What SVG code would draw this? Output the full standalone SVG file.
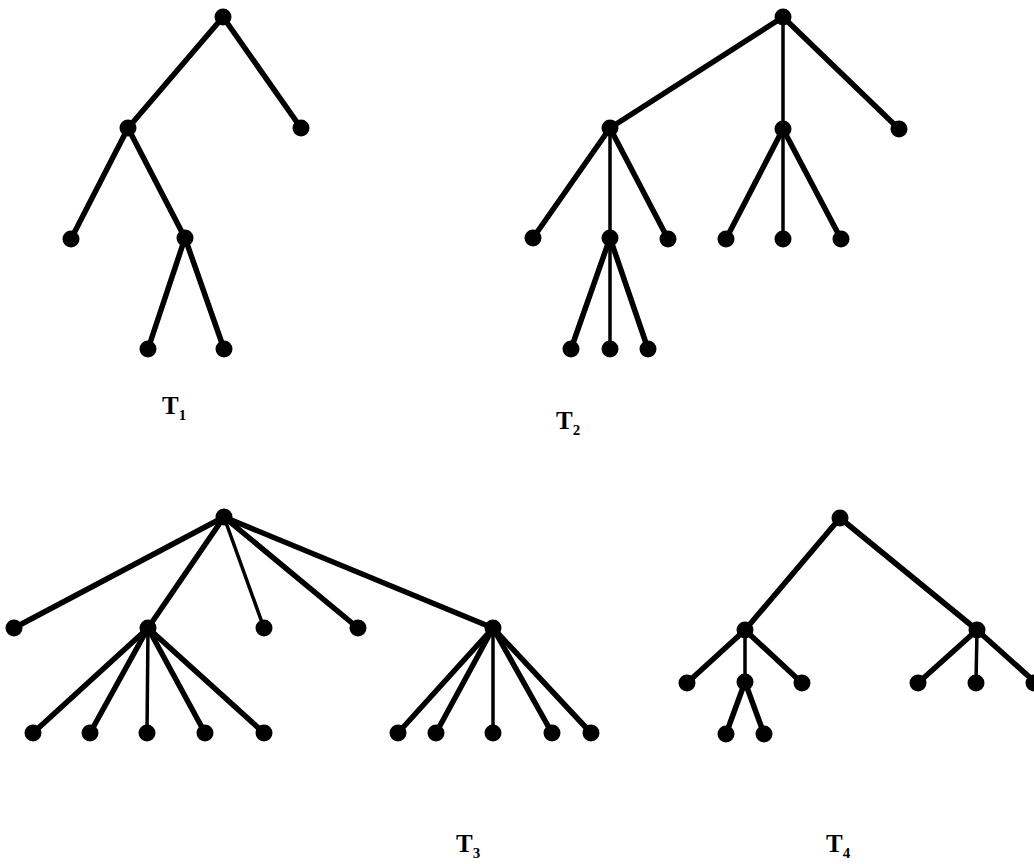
<svg xmlns="http://www.w3.org/2000/svg" width="1034" height="864" viewBox="0 0 1034 864">
<style>
.e{stroke:#000;stroke-width:5.5;stroke-linecap:round;fill:none}
.v{stroke:#000;stroke-width:3.5;stroke-linecap:round;fill:none}
.n{fill:#000}
.lab{font-family:"Liberation Serif","DejaVu Serif",serif;font-weight:bold;fill:#000}
</style>
<rect width="1034" height="864" fill="#fff"/>
<g id="connectors">
<line class="e" x1="223" y1="17" x2="128" y2="128"/>
<line class="e" x1="223" y1="17" x2="301" y2="128"/>
<line class="e" x1="128" y1="128" x2="71" y2="239"/>
<line class="e" x1="128" y1="128" x2="185" y2="238"/>
<line class="e" x1="185" y1="238" x2="148" y2="349"/>
<line class="e" x1="185" y1="238" x2="224" y2="349"/>
<line class="e" x1="783" y1="17" x2="610" y2="128"/>
<line class="v" x1="783" y1="17" x2="783" y2="129"/>
<line class="e" x1="783" y1="17" x2="899" y2="129"/>
<line class="e" x1="610" y1="128" x2="533" y2="238"/>
<line class="v" x1="610" y1="128" x2="610" y2="238"/>
<line class="e" x1="610" y1="128" x2="668" y2="239"/>
<line class="e" x1="783" y1="129" x2="726" y2="239"/>
<line class="v" x1="783" y1="129" x2="783" y2="239"/>
<line class="e" x1="783" y1="129" x2="841" y2="239"/>
<line class="e" x1="610" y1="238" x2="571" y2="349"/>
<line class="v" x1="610" y1="238" x2="610" y2="349"/>
<line class="e" x1="610" y1="238" x2="648" y2="349"/>
<line class="e" x1="224" y1="517" x2="14" y2="628"/>
<line class="e" x1="224" y1="517" x2="148" y2="628"/>
<line class="v" x1="224" y1="517" x2="264" y2="628"/>
<line class="e" x1="224" y1="517" x2="358" y2="628"/>
<line class="e" x1="224" y1="517" x2="493" y2="628"/>
<line class="e" x1="148" y1="628" x2="33" y2="733"/>
<line class="e" x1="148" y1="628" x2="90" y2="733"/>
<line class="v" x1="148" y1="628" x2="147" y2="733"/>
<line class="e" x1="148" y1="628" x2="205" y2="733"/>
<line class="e" x1="148" y1="628" x2="264" y2="733"/>
<line class="e" x1="493" y1="628" x2="398" y2="733"/>
<line class="e" x1="493" y1="628" x2="436" y2="733"/>
<line class="v" x1="493" y1="628" x2="493" y2="733"/>
<line class="e" x1="493" y1="628" x2="552" y2="733"/>
<line class="e" x1="493" y1="628" x2="591" y2="733"/>
<line class="e" x1="840" y1="518" x2="745" y2="630"/>
<line class="e" x1="840" y1="518" x2="977" y2="630"/>
<line class="e" x1="745" y1="630" x2="687" y2="683"/>
<line class="v" x1="745" y1="630" x2="745" y2="682"/>
<line class="e" x1="745" y1="630" x2="802" y2="683"/>
<line class="e" x1="745" y1="682" x2="726" y2="734"/>
<line class="e" x1="745" y1="682" x2="764" y2="734"/>
<line class="e" x1="977" y1="630" x2="918" y2="683"/>
<line class="v" x1="977" y1="630" x2="976" y2="683"/>
<line class="e" x1="977" y1="630" x2="1036" y2="683"/>
</g>
<g id="T1">
<circle class="n" cx="223" cy="17" r="8.5"/>
<circle class="n" cx="128" cy="128" r="8.5"/>
<circle class="n" cx="301" cy="128" r="8.5"/>
<circle class="n" cx="71" cy="239" r="8.5"/>
<circle class="n" cx="185" cy="238" r="8.5"/>
<circle class="n" cx="148" cy="349" r="8.5"/>
<circle class="n" cx="224" cy="349" r="8.5"/>
<text class="lab" x="162" y="414" font-size="25">T<tspan font-size="15" dy="6">1</tspan></text>
</g>
<g id="T2">
<circle class="n" cx="783" cy="17" r="8.5"/>
<circle class="n" cx="610" cy="128" r="8.5"/>
<circle class="n" cx="783" cy="129" r="8.5"/>
<circle class="n" cx="899" cy="129" r="8.5"/>
<circle class="n" cx="533" cy="238" r="8.5"/>
<circle class="n" cx="610" cy="238" r="8.5"/>
<circle class="n" cx="668" cy="239" r="8.5"/>
<circle class="n" cx="726" cy="239" r="8.5"/>
<circle class="n" cx="783" cy="239" r="8.5"/>
<circle class="n" cx="841" cy="239" r="8.5"/>
<circle class="n" cx="571" cy="349" r="8.5"/>
<circle class="n" cx="610" cy="349" r="8.5"/>
<circle class="n" cx="648" cy="349" r="8.5"/>
<text class="lab" x="556" y="429" font-size="25">T<tspan font-size="15" dy="6">2</tspan></text>
</g>
<g id="T3">
<circle class="n" cx="224" cy="517" r="8.5"/>
<circle class="n" cx="14" cy="628" r="8.5"/>
<circle class="n" cx="148" cy="628" r="8.5"/>
<circle class="n" cx="264" cy="628" r="8.5"/>
<circle class="n" cx="358" cy="628" r="8.5"/>
<circle class="n" cx="493" cy="628" r="8.5"/>
<circle class="n" cx="33" cy="733" r="8.5"/>
<circle class="n" cx="90" cy="733" r="8.5"/>
<circle class="n" cx="147" cy="733" r="8.5"/>
<circle class="n" cx="205" cy="733" r="8.5"/>
<circle class="n" cx="264" cy="733" r="8.5"/>
<circle class="n" cx="398" cy="733" r="8.5"/>
<circle class="n" cx="436" cy="733" r="8.5"/>
<circle class="n" cx="493" cy="733" r="8.5"/>
<circle class="n" cx="552" cy="733" r="8.5"/>
<circle class="n" cx="591" cy="733" r="8.5"/>
<text class="lab" x="456" y="852" font-size="25">T<tspan font-size="15" dy="6">3</tspan></text>
</g>
<g id="T4">
<circle class="n" cx="840" cy="518" r="8.5"/>
<circle class="n" cx="745" cy="630" r="8.5"/>
<circle class="n" cx="977" cy="630" r="8.5"/>
<circle class="n" cx="687" cy="683" r="8.5"/>
<circle class="n" cx="745" cy="682" r="8.5"/>
<circle class="n" cx="802" cy="683" r="8.5"/>
<circle class="n" cx="726" cy="734" r="8.5"/>
<circle class="n" cx="764" cy="734" r="8.5"/>
<circle class="n" cx="918" cy="683" r="8.5"/>
<circle class="n" cx="976" cy="683" r="8.5"/>
<circle class="n" cx="1034" cy="683" r="8.5"/>
<text class="lab" x="826" y="852" font-size="25">T<tspan font-size="15" dy="6">4</tspan></text>
</g>
</svg>
